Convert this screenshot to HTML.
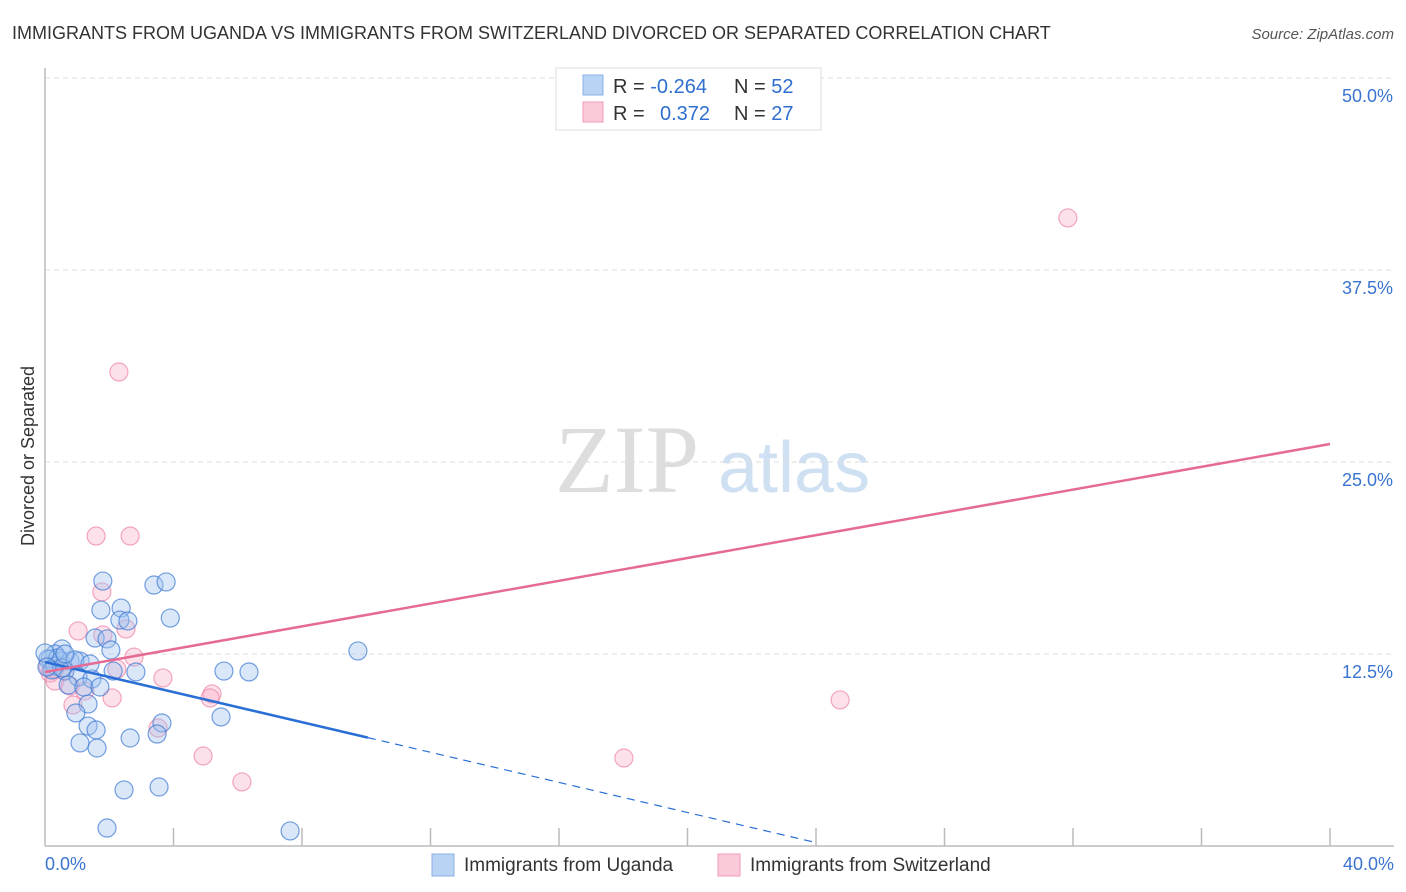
<!DOCTYPE html>
<html><head><meta charset="utf-8"><style>
body{margin:0;background:#fff;font-family:"Liberation Sans",sans-serif;}
#wrap{position:relative;width:1406px;height:892px;overflow:hidden;}
</style></head><body>
<div id="wrap">
<svg id="svg" width="1406" height="892" style="position:absolute;left:0;top:0">
<text x="12" y="39" font-size="18" fill="#333">IMMIGRANTS FROM UGANDA VS IMMIGRANTS FROM SWITZERLAND DIVORCED OR SEPARATED CORRELATION CHART</text>
<text x="1394" y="39" font-size="15" fill="#555" font-style="italic" text-anchor="end">Source: ZipAtlas.com</text>
<text x="34" y="456" font-size="18" fill="#333" text-anchor="middle" transform="rotate(-90 34 456)">Divorced or Separated</text>
<text x="555" y="492" font-size="96" fill="#ddd" font-family="Liberation Serif,serif">ZIP</text>
<text x="718" y="492" font-size="72" fill="#cfe0f3">atlas</text>
<g id="grid"></g><g id="axes"></g><g id="pts"></g><g id="lines"></g>
<g>
<rect x="556" y="68" width="265" height="62" fill="#fff" stroke="#ddd"/>
<rect x="583" y="75" width="20" height="20" fill="#b9d3f5" stroke="#8ab0e6"/>
<rect x="583" y="102" width="20" height="20" fill="#fbc9d8" stroke="#f09ab5"/>
<text x="613" y="93" font-size="20" fill="#333">R = <tspan fill="#2e6fd0">-0.264</tspan><tspan x="734">N = </tspan><tspan fill="#2e6fd0">52</tspan></text>
<text x="613" y="120" font-size="20" fill="#333">R = <tspan x="660" fill="#2e6fd0">0.372</tspan><tspan x="734">N = </tspan><tspan fill="#2e6fd0">27</tspan></text>
</g>
<g>
<rect x="432" y="854" width="22" height="22" fill="#b9d3f5" stroke="#8ab0e6"/>
<text x="464" y="871" font-size="19" fill="#333">Immigrants from Uganda</text>
<rect x="718" y="854" width="22" height="22" fill="#fbc9d8" stroke="#f09ab5"/>
<text x="750" y="871" font-size="19" fill="#333">Immigrants from Switzerland</text>
</g>
</svg>
</div>
<script>
const yTicks=[12.5,25,37.5,50];
const yTickLabels=["12.5%","25.0%","37.5%","50.0%"];
const xTickLabels=["0.0%","40.0%"];
const ugandaX=[1.80,3.39,3.77,1.74,2.37,2.33,2.58,3.90,1.56,1.93,2.05,9.74,0.53,0.31,0.16,0.47,0.78,1.09,0.62,1.03,1.46,0.72,1.21,1.71,2.12,2.83,5.57,6.35,1.34,0.96,1.34,1.59,3.64,3.49,5.48,2.65,1.09,1.62,2.46,3.55,1.93,7.63,0.09,0.31,0.40,0.00,0.22,0.53,0.93,1.40,0.06,0.62];
const ugandaY=[17.25,16.99,17.19,15.36,15.49,14.71,14.65,14.84,13.54,13.48,12.76,12.70,12.83,12.50,12.17,12.04,12.04,12.04,11.39,11.00,10.87,10.48,10.35,10.35,11.39,11.33,11.39,11.33,9.24,8.66,7.81,7.55,8.01,7.29,8.40,7.03,6.71,6.38,3.65,3.84,1.17,0.98,12.17,11.72,12.24,12.57,11.46,11.59,12.11,11.85,11.65,12.50];
const swissX=[31.84,2.30,1.59,2.65,1.77,2.52,1.03,1.80,2.77,2.24,3.67,0.16,0.31,0.78,1.24,2.09,5.20,5.14,0.87,3.52,24.75,4.92,6.13,18.02,0.31,0.62,0.09];
const swissY=[40.89,30.86,20.18,20.18,16.54,14.13,14.00,13.74,12.30,11.52,10.94,11.26,10.74,10.42,10.09,9.64,9.90,9.64,9.18,7.68,9.51,5.86,4.17,5.73,11.52,11.39,11.72];
const blueFit=[11.98,-0.49];  // intercept, slope
const pinkFit=[11.33,0.371];
const NS="http://www.w3.org/2000/svg";
const X=v=>45+v/40*1285, Y=v=>846-v*15.36;
function mk(t,a,p){const e=document.createElementNS(NS,t);for(const k in a)e.setAttribute(k,a[k]);p.appendChild(e);return e;}
const grid=document.getElementById('grid'),axes=document.getElementById('axes');
yTicks.forEach((t,i)=>{
 const l=mk('line',{x1:45,x2:1394,y1:Y(t),y2:Y(t),stroke:'#ddd','stroke-dasharray':'5,4'},grid);
 
 
 const tx=mk('text',{x:1393,y:Y(t)+24,'font-size':18,fill:'#3a74d0','text-anchor':'end'},axes);
 tx.textContent=yTickLabels[i];
 
 
});
mk('line',{x1:45,x2:45,y1:68,y2:846,stroke:'#bbb','stroke-width':1.5},axes);
mk('line',{x1:45,x2:1394,y1:846,y2:846,stroke:'#bbb','stroke-width':1.5},axes);
for(let i=1;i<=10;i++){const x=X(i*4);mk('line',{x1:x,x2:x,y1:828,y2:846,stroke:'#bbb','stroke-width':1.5},axes);}
[[0,'start',45],[40,'end',1394]].forEach((d,i)=>{const t=mk('text',{x:d[2],y:870,'font-size':18,fill:'#3a74d0','text-anchor':d[1]},axes);t.textContent=xTickLabels[i];
 
 });
const pts=document.getElementById('pts');
swissX.forEach((x,i)=>{const c=mk('circle',{cx:X(x),cy:Y(swissY[i]),r:9,fill:'rgba(248,170,195,0.35)',stroke:'rgba(236,130,165,0.7)','stroke-width':1.2},pts);
 
 });
ugandaX.forEach((x,i)=>{const c=mk('circle',{cx:X(x),cy:Y(ugandaY[i]),r:9,fill:'rgba(160,196,240,0.4)',stroke:'rgba(60,120,210,0.7)','stroke-width':1.2},pts);
 
 });
const lines=document.getElementById('lines');
const bf=x=>blueFit[0]+blueFit[1]*x, pf=x=>pinkFit[0]+pinkFit[1]*x;
const b1=mk('line',{x1:X(0),y1:Y(bf(0)),x2:X(10.05),y2:Y(bf(10.05)),stroke:'#2a6fd6','stroke-width':2.5},lines);


const b2=mk('line',{x1:X(10.05),y1:Y(bf(10.05)),x2:X(24),y2:Y(bf(24)),stroke:'#2a6fd6','stroke-width':1.2,'stroke-dasharray':'8,6'},lines);


const p1=mk('line',{x1:X(0),y1:Y(pf(0)),x2:X(40),y2:Y(pf(40)),stroke:'#e56b95','stroke-width':2.5},lines);


</script>
</body></html>
